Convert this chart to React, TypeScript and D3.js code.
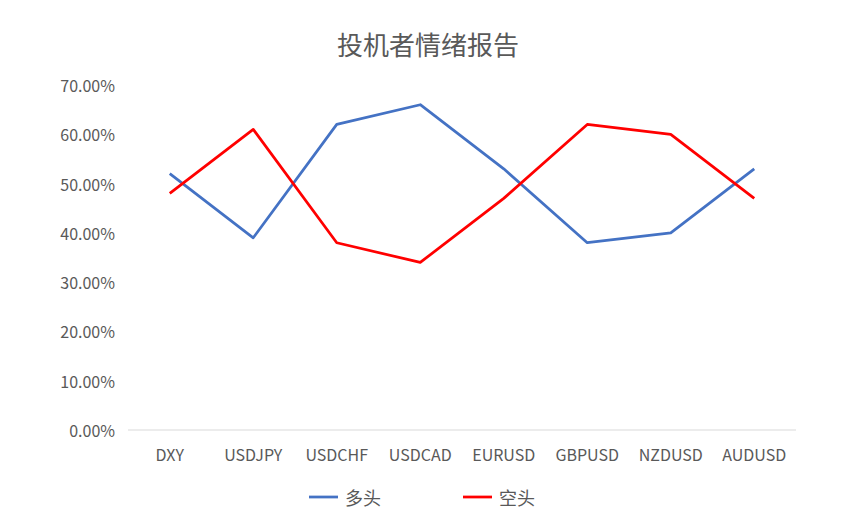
import { useEffect, useRef } from 'react';
import * as d3 from 'd3';

const categories = ['DXY', 'USDJPY', 'USDCHF', 'USDCAD', 'EURUSD', 'GBPUSD', 'NZDUSD', 'AUDUSD'];
const longValues = [0.52, 0.39, 0.62, 0.66, 0.53, 0.38, 0.40, 0.53];
const shortValues = [0.48, 0.61, 0.38, 0.34, 0.47, 0.62, 0.60, 0.47];
const yTicks = [0, 0.1, 0.2, 0.3, 0.4, 0.5, 0.6, 0.7];

const seriesList = [
  { name: '多头', values: longValues, color: '#4472C4' },
  { name: '空头', values: shortValues, color: '#FF0000' },
];

const FONT = '"Microsoft YaHei", "Noto Sans CJK SC", sans-serif';

export default function App() {
  const svgRef = useRef<SVGSVGElement>(null);

  useEffect(() => {
    if (!svgRef.current) return;
    const svg = d3.select(svgRef.current);
    svg.selectAll('*').remove();

    const width = 858;
    const height = 531;
    const left = 128;
    const right = 796;
    const top = 85;
    const bottom = 430;

    svg.append('rect')
      .attr('width', width)
      .attr('height', height)
      .attr('fill', '#ffffff');

    // Title
    svg.append('text')
      .attr('x', 428)
      .attr('y', 55)
      .attr('text-anchor', 'middle')
      .style('font-family', FONT)
      .style('font-size', '26px')
      .style('fill', '#595959')
      .text('投机者情绪报告');

    const x = d3.scaleBand()
      .domain(categories)
      .range([left, right]);

    const y = d3.scaleLinear()
      .domain([0, 0.7])
      .range([bottom, top]);

    // Y tick labels
    yTicks.forEach(t => {
      svg.append('text')
        .attr('x', 115)
        .attr('y', y(t))
        .attr('text-anchor', 'end')
        .attr('dominant-baseline', 'central')
        .style('font-family', FONT)
        .style('font-size', '16px')
        .style('fill', '#595959')
        .text(d3.format('.2%')(t));
    });

    // Baseline
    svg.append('line')
      .attr('x1', left)
      .attr('x2', right)
      .attr('y1', y(0))
      .attr('y2', y(0))
      .style('stroke', '#d9d9d9')
      .style('stroke-width', 1);

    // Category labels
    categories.forEach(c => {
      svg.append('text')
        .attr('x', x(c)! + x.bandwidth() / 2)
        .attr('y', 461)
        .attr('text-anchor', 'middle')
        .style('font-family', FONT)
        .style('font-size', '16px')
        .style('fill', '#595959')
        .text(c);
    });

    // Lines
    const line = d3.line<number>()
      .x((_, i) => x(categories[i])! + x.bandwidth() / 2)
      .y(d => y(d));

    seriesList.forEach(s => {
      svg.append('path')
        .datum(s.values)
        .attr('d', line)
        .attr('fill', 'none')
        .attr('stroke', s.color)
        .attr('stroke-width', 2.75)
        .attr('stroke-linejoin', 'round');
    });

    // Legend
    const legendX = [309, 463];
    seriesList.forEach((s, i) => {
      const g = svg.append('g').attr('transform', `translate(${legendX[i]},497)`);
      g.append('line')
        .attr('x1', 0)
        .attr('x2', 29)
        .attr('stroke', s.color)
        .attr('stroke-width', 2.75);
      g.append('text')
        .attr('x', 36)
        .attr('y', 0)
        .attr('dominant-baseline', 'central')
        .style('font-family', FONT)
        .style('font-size', '18px')
        .style('fill', '#595959')
        .text(s.name);
    });
  }, []);

  return (
    <svg
      ref={svgRef}
      width={858}
      height={531}
      style={{ position: 'absolute', left: 0, top: 0, display: 'block' }}
    />
  );
}
